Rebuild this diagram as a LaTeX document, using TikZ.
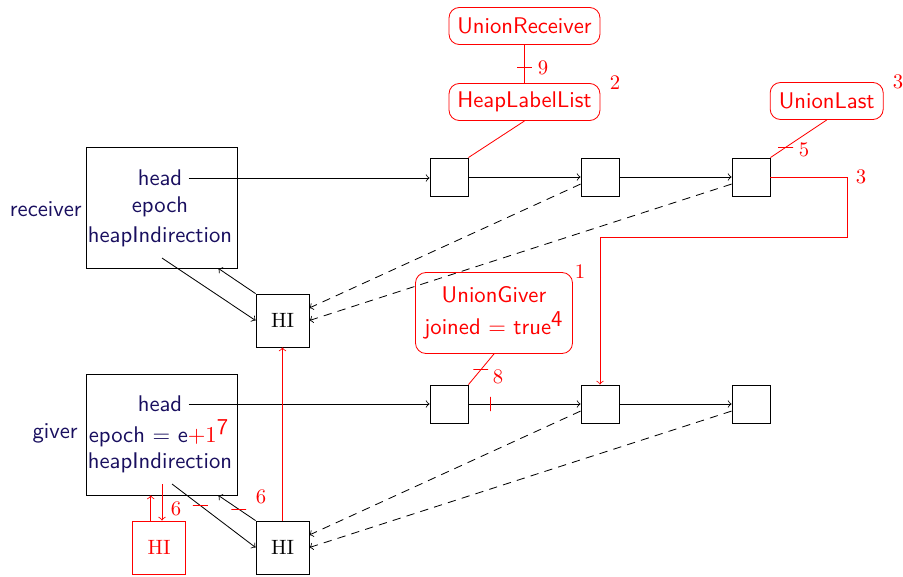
\documentclass[tikz,border=0pt]{standalone}
\usetikzlibrary{calc}
\definecolor{ink}{RGB}{25,15,95}
\newcommand{\labfont}{\fontsize{10.95}{13.6}\selectfont\sffamily}
\begin{document}
\begin{tikzpicture}[x=0.483pt,y=-0.483pt,
  lbl/.style={font=\labfont, text=ink, inner sep=0pt},
  cell/.style={draw, minimum size=18.4pt, inner sep=0pt},
  hibox/.style={draw, minimum size=25.6pt, inner sep=0pt, font=\rmfamily},
  obj/.style={draw, minimum width=72.9pt, minimum height=58.4pt, inner sep=0pt},
  tag/.style={draw=red, text=red, rounded corners=5pt, font=\labfont,
    minimum height=17.9pt, inner sep=0pt, align=center},
  num/.style={text=red, inner sep=0pt, font=\rmfamily},
  cut/.style={draw=red, minimum width=7.2pt, minimum height=0pt, inner sep=0pt},
  vcut/.style={draw=red, minimum width=0pt, minimum height=6.8pt, inner sep=0pt},
  back/.style={->, dash pattern=on 4pt off 3pt}]
\useasboundingbox (0,0) rectangle (903,576);

% object boxes
\node[obj] (robj) at (161.5,207.5) {};
\node[lbl] (rh)  at (160,178) {head};
\node[lbl] (re)  at (160,207) {epoch};
\node[lbl] (rhi) at (160,237) {heapIndirection};
\node[lbl, anchor=east] (rlab) at (82,209) {receiver};

\node[obj] (gobj) at (161.5,434.5) {};
\node[lbl] (gh)  at (160,404) {head};
\node[lbl] (ge)  at (159,433) {epoch $=$ e\textcolor{red}{$+1$}\textcolor{red}{$^{\textsf{7}}$}};
\node[lbl] (ghi) at (160,463) {heapIndirection};
\node[lbl, anchor=east] (glab) at (78,433) {giver};

\coordinate (rout) at (162,258);
\coordinate (gout) at (172,484);
\coordinate (gdown) at (162,484);

% list cells
\node[cell] (a1) at (449,177) {};
\node[cell] (a2) at (600,177) {};
\node[cell] (a3) at (751,177) {};
\node[cell] (b1) at (449,404) {};
\node[cell] (b2) at (600,404) {};
\node[cell] (b3) at (751,404) {};

% heap indirections
\node[hibox] (hr) at (282.5,320.5) {HI};
\node[hibox] (hg) at (282.5,547.5) {HI};
\node[hibox, draw=red, text=red] (hx) at (159,547.5) {HI};

% red tags
\node[tag, minimum width=72.9pt] (ur) at (524.5,26) {UnionReceiver};
\node[tag, minimum width=72.9pt] (hl) at (524.5,102) {HeapLabelList};
\node[tag, minimum width=54.6pt] (ul) at (826.7,101) {UnionLast};
\node[tag, minimum width=75.8pt, minimum height=39.1pt] (ug) at (494,313)
  {UnionGiver\\[2pt]joined $=$ true$^{\textsf{4}}$};

% list links
\draw[->] (rh.east) ++(6,0) -- (rh.east -| a1.west);
\draw[->] (a1) -- (a2);
\draw[->] (a2) -- (a3);
\draw[->] (gh.east) ++(6,0) -- (gh.east -| b1.west);
\draw[->] (b1) -- node[vcut, pos=0.2] {} (b2);
\draw[->] (b2) -- (b3);

% back pointers to heap indirections
\draw[back] (a2.200) -- (hr.25);
\draw[back] (a3.200) -- (hr.east);
\draw[back] (b2.200) -- (hg.25);
\draw[back] (b3.200) -- (hg.east);

% object <-> heap indirection
\draw[->] (rout) -- (hr.west);
\draw[->] (hr.north west) -- (robj.-47.5);
\draw[->] (gout) -- node[cut, pos=0.34] {} (hg.west);
\draw[->] (hg.north west) -- node[cut, pos=0.45] {} (gobj.-47.5);

% red changes
\draw[red, ->] (gdown) -- (gdown |- hx.north);
\draw[red, ->] (hx.107) -- (hx.107 |- gobj.south);
\draw[red, ->] (hg.north) -- (hr.south);
\draw[red, ->] (a3.east) -- ++(77,0) -- ++(0,60) -| (b2.north);
\draw[red] (ur.south) -- node[cut, pos=0.59] {} (hl.north);
\draw[red] (hl.south) -- (a1.north east);
\draw[red] (ul.south) -- node[cut, pos=0.73] {} (a3.north east);
\draw[red] (ug.south) -- node[cut, pos=0.52] {} (b1.north east);

% step numbers
\node[num] (n9) at (543,68) {9};
\node[num] (n2) at (615,83) {2};
\node[num] (n3a) at (898,82) {3};
\node[num] (n5) at (804,150) {5};
\node[num] (n3b) at (861,177) {3};
\node[num] (n1) at (580,272) {1};
\node[num] (n8) at (498,377) {8};
\node[num] (n6a) at (176,509) {6};
\node[num] (n6b) at (261,497) {6};
\end{tikzpicture}
\end{document}
